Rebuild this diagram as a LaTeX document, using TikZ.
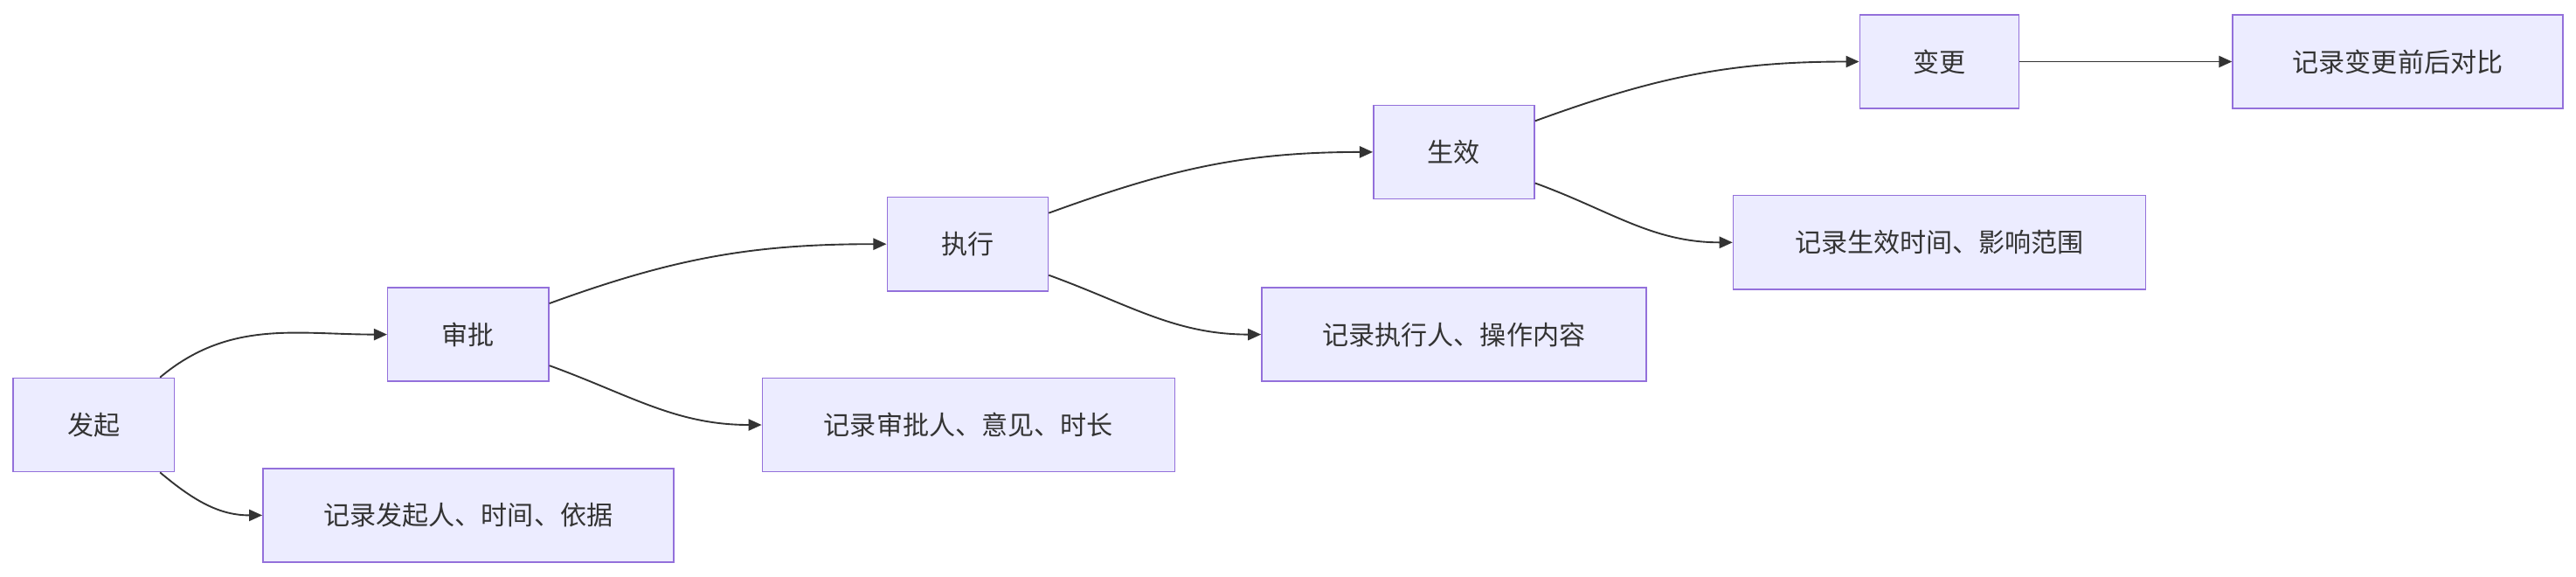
\documentclass[tikz,border=0pt]{standalone}
\usepackage{fontspec}
\setmainfont{Noto Sans CJK SC}
\usetikzlibrary{arrows.meta,calc}
\definecolor{nf}{HTML}{ECECFF}
\definecolor{ns}{HTML}{9370DB}
\definecolor{ln}{HTML}{333333}
\begin{document}
\begin{tikzpicture}[x=1pt,y=-1pt,
  box/.style={draw=ns,fill=nf,line width=0.8pt,minimum height=57pt,inner sep=0pt,font=\fontsize{16}{18}\selectfont,text=ln},
  e/.style={draw=ln,line width=1pt,-{Triangle[length=8pt,width=7pt]}}]
\useasboundingbox (0,0) rectangle (1568,351);
\fill[white] (0,0) rectangle (1568,351);
\node[box,minimum width=98pt] (a) at (57,258.5) {发起};
\node[box,minimum width=250pt] (ar) at (285,313.5) {记录发起人、时间、依据};
\node[box,minimum width=98pt] (b) at (285,203.5) {审批};
\node[box,minimum width=251pt] (br) at (589.5,258.5) {记录审批人、意见、时长};
\node[box,minimum width=98pt] (c) at (589,148.5) {执行};
\node[box,minimum width=234pt] (cr) at (885,203.5) {记录执行人、操作内容};
\node[box,minimum width=98pt] (d) at (885,92.5) {生效};
\node[box,minimum width=251pt] (dr) at (1180.5,147.5) {记录生效时间、影响范围};
\node[box,minimum width=97pt] (f) at (1180.5,37.5) {变更};
\node[box,minimum width=201pt] (fr) at (1459.5,37.5) {记录变更前后对比};
\draw[e] ($(a.north east)+(-9,0)$) to[out=40,in=180] (b.west);
\draw[e] ($(a.south east)+(-9,0)$) to[out=-40,in=180] (ar.west);
\foreach \s/\t/\r in {b/c/br,c/d/cr,d/f/dr}{
  \draw[e] ($(\s.north east)+(0,10)$) to[out=20,in=180] (\t.west);
  \draw[e] ($(\s.south east)+(0,-10)$) to[out=-20,in=180] (\r.west);
}
\draw[e] (f.east) -- (fr.west);
\end{tikzpicture}
\end{document}
